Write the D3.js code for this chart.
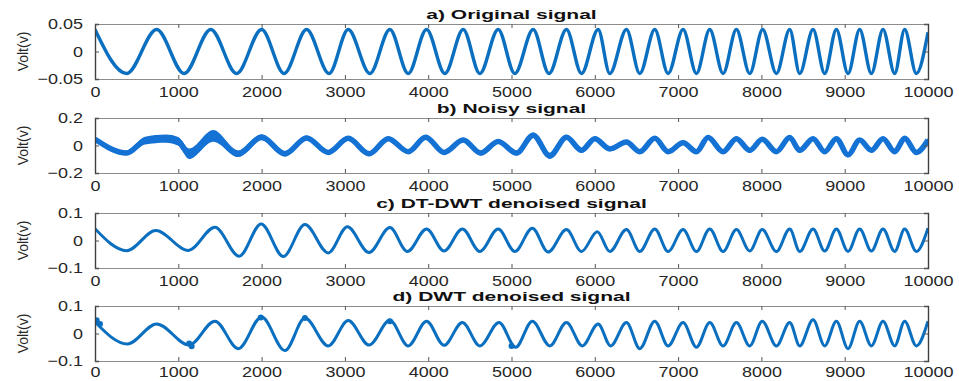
<!DOCTYPE html>
<html><head><meta charset="utf-8">
<script src="https://cdn.jsdelivr.net/npm/d3@7"></script>
<style>body{margin:0;background:#fff}svg{display:block}</style>
</head><body>
<svg id="chart" width="959" height="381"></svg>
<script>
// ---------- data ----------
const xTickValues = [0,1000,2000,3000,4000,5000,6000,7000,8000,9000,10000];
const panelTitles = ["a) Original signal","b) Noisy signal","c) DT-DWT denoised signal","d) DWT denoised signal"];
const yTicksA = [-0.05,0,0.05];
const yTicksB = [-0.2,0,0.2];
const yTicksC = [-0.1,0,0.1];
const yTicksD = [-0.1,0,0.1];
const yLabel = "Volt(v)";

// a) original chirp – extrema positions and values
const originalX = [0,380,740,1070,1390,1700,2000,2270,2540,2810,3040,3300,3540,3760,3980,4200,4420,4620,4840,5040,5260,5450,5660,5840,6040,6180,6380,6540,6720,6880,7060,7220,7380,7540,7700,7860,8015,8180,8340,8460,8620,8760,8900,9040,9180,9320,9460,9600,9720,9860,10000];
const originalV = [0.040,-0.040,0.040,-0.040,0.040,-0.040,0.040,-0.040,0.040,-0.040,0.040,-0.040,0.040,-0.040,0.040,-0.040,0.040,-0.040,0.040,-0.040,0.040,-0.040,0.040,-0.040,0.040,-0.040,0.040,-0.040,0.040,-0.040,0.040,-0.040,0.040,-0.040,0.040,-0.040,0.040,-0.040,0.040,-0.040,0.040,-0.040,0.040,-0.040,0.040,-0.040,0.040,-0.040,0.040,-0.040,0.035];

// b) noisy signal – band centre and half thickness
const noisyX = [0,380,600,850,1000,1130,1420,1720,2000,2280,2540,2800,3040,3290,3520,3760,3970,4190,4420,4630,4840,5060,5260,5460,5660,5840,6000,6180,6380,6540,6720,6880,7060,7220,7360,7540,7700,7860,8010,8180,8340,8460,8620,8760,8900,9040,9180,9320,9460,9600,9720,9860,10000];
const noisyV = [0.045,-0.055,0.035,0.050,0.030,-0.060,0.070,-0.060,0.060,-0.060,0.055,-0.050,0.052,-0.060,0.050,-0.045,0.060,-0.050,0.040,-0.055,0.030,-0.055,0.075,-0.075,0.060,-0.035,0.050,-0.025,0.025,-0.045,0.052,-0.045,0.020,-0.045,0.058,-0.045,0.050,-0.035,0.045,-0.045,0.058,-0.035,0.050,-0.045,0.050,-0.068,0.040,-0.035,0.050,-0.045,0.052,-0.050,0.040];
const noisyBand = [0.016,0.016,0.028,0.030,0.032,0.038,0.042,0.024,0.022,0.020,0.018,0.016,0.018,0.018,0.016,0.016,0.018,0.016,0.016,0.018,0.016,0.018,0.020,0.022,0.018,0.015,0.016,0.015,0.015,0.015,0.016,0.015,0.015,0.015,0.016,0.015,0.015,0.015,0.015,0.015,0.016,0.015,0.015,0.015,0.015,0.018,0.015,0.015,0.015,0.015,0.015,0.015,0.015];

// c) DT-DWT denoised
const dtdwtX = [0,380,730,1120,1440,1730,1995,2260,2520,2800,3030,3290,3540,3750,3980,4190,4410,4620,4840,5040,5250,5440,5660,5840,6030,6180,6380,6540,6720,6880,7060,7220,7380,7540,7700,7860,8010,8180,8340,8460,8620,8760,8900,9040,9180,9320,9460,9600,9720,9860,10000];
const dtdwtV = [0.043,-0.037,0.036,-0.036,0.048,-0.057,0.060,-0.058,0.058,-0.045,0.050,-0.044,0.047,-0.040,0.042,-0.038,0.042,-0.040,0.042,-0.040,0.045,-0.042,0.040,-0.040,0.032,-0.040,0.040,-0.040,0.042,-0.040,0.040,-0.040,0.042,-0.040,0.040,-0.038,0.040,-0.040,0.042,-0.040,0.042,-0.038,0.042,-0.040,0.042,-0.038,0.042,-0.040,0.042,-0.040,0.045];

// d) DWT denoised
const dwtX = [0,390,740,1130,1440,1720,2000,2280,2520,2800,3040,3290,3540,3760,3980,4190,4410,4620,4850,5050,5250,5460,5660,5850,6040,6190,6380,6540,6720,6880,7060,7220,7380,7540,7700,7860,8010,8180,8340,8460,8620,8760,8900,9040,9180,9320,9460,9600,9720,9860,10000];
const dwtV = [0.042,-0.038,0.035,-0.042,0.045,-0.055,0.060,-0.062,0.056,-0.045,0.047,-0.042,0.048,-0.045,0.045,-0.043,0.040,-0.045,0.040,-0.050,0.045,-0.045,0.040,-0.045,0.035,-0.045,0.040,-0.055,0.045,-0.045,0.040,-0.050,0.040,-0.045,0.040,-0.045,0.045,-0.045,0.040,-0.045,0.050,-0.045,0.045,-0.055,0.045,-0.045,0.045,-0.045,0.045,-0.045,0.045];
// thick step artefacts visible on the DWT curve
const dwtBlobX = [20,60,1130,1160,1990,2520,3540,5000];
const dwtBlobV = [0.048,0.035,-0.036,-0.046,0.058,0.056,0.045,-0.045];

// ---------- layout ----------
const svg = d3.select("#chart");
const left = 95, right = 928, panelH = 55;
const tops = [24, 118, 213, 306];
const lineColor = "#0b6fc0";
const textColor = "#262626";

const x = d3.scaleLinear().domain([0,10000]).range([left,right]);

function stretch(sel, k){
  sel.each(function(){
    const w = this.getComputedTextLength();
    this.setAttribute("textLength", (w*k).toFixed(1));
    this.setAttribute("lengthAdjust","spacingAndGlyphs");
  });
}

const panels = [
  {yTicks:yTicksA, dom:[-0.05,0.05], fmt:d=>d===0?"0":d3.format(".2f")(d), pad:7},
  {yTicks:yTicksB, dom:[-0.2,0.2],   fmt:d=>d===0?"0":d3.format(".1f")(d), pad:7},
  {yTicks:yTicksC, dom:[-0.1,0.1],   fmt:d=>d===0?"0":d3.format(".1f")(d), pad:7},
  {yTicks:yTicksD, dom:[-0.1,0.1],   fmt:d=>d===0?"0":d3.format(".1f")(d), pad:5}
];

panels.forEach((p,i)=>{
  const top = tops[i], bottom = top+panelH;
  const y = d3.scaleLinear().domain(p.dom).range([bottom,top]);
  p.y = y;
  const g = svg.append("g");
  p.g = g;
  const t = g.append("text").attr("x",(left+right)/2).attr("y",top-5)
    .attr("text-anchor","middle").attr("font-family","Liberation Sans, Arial, sans-serif")
    .attr("font-weight","bold").attr("font-size",12).attr("fill","#111").text(panelTitles[i]);
  stretch(t,1.75);
  g.append("text").attr("transform",`translate(28,${(top+bottom)/2}) rotate(-90)`)
    .attr("text-anchor","middle").attr("font-family","Liberation Sans, Arial, sans-serif")
    .attr("font-size",14).attr("fill",textColor).text(yLabel);

  const clipId = "clip"+i;
  svg.append("clipPath").attr("id",clipId).append("rect")
    .attr("x",left).attr("y",top-4).attr("width",right-left).attr("height",panelH+8);
  p.plot = g.append("g").attr("clip-path",`url(#${clipId})`);

  const xb = d3.axisBottom(x).tickValues(xTickValues).tickSize(-4).tickPadding(p.pad).tickFormat(d3.format("d"));
  const xt = d3.axisTop(x).tickValues(xTickValues).tickSize(-4).tickFormat("");
  const yl = d3.axisLeft(y).tickValues(p.yTicks).tickSize(-4).tickPadding(12).tickFormat(p.fmt);
  const yr = d3.axisRight(y).tickValues(p.yTicks).tickSize(-4).tickFormat("");
  p.axes = [
    g.append("g").attr("class","hz").attr("transform",`translate(0,${bottom})`).call(xb),
    g.append("g").attr("class","hz").attr("transform",`translate(0,${top})`).call(xt),
    g.append("g").attr("class","vt").attr("transform",`translate(${left},0)`).call(yl),
    g.append("g").attr("class","vt").attr("transform",`translate(${right},0)`).call(yr)
  ];
});

function pts(xs,vs){ return xs.map((d,i)=>[d,vs[i]]); }

// a
{
  const p = panels[0];
  const line = d3.line().x(d=>x(d[0])).y(d=>p.y(d[1])).curve(d3.curveMonotoneX);
  p.plot.append("path").attr("d",line(pts(originalX,originalV)))
    .attr("fill","none").attr("stroke",lineColor).attr("stroke-width",3.4).attr("stroke-linejoin","round");
}
// b
{
  const p = panels[1];
  const data = noisyX.map((d,i)=>({x:d,v:noisyV[i],h:noisyBand[i]}));
  const area = d3.area().x(d=>x(d.x)).y0(d=>p.y(d.v-d.h)).y1(d=>p.y(d.v+d.h)).curve(d3.curveMonotoneX);
  p.plot.append("path").attr("d",area(data)).attr("fill","#1472d4");
  const line = d3.line().x(d=>x(d.x)).y(d=>p.y(d.v)).curve(d3.curveMonotoneX);
  p.plot.append("path").attr("d",line(data)).attr("fill","none").attr("stroke","#1472d4").attr("stroke-width",5.5);
}
// c
{
  const p = panels[2];
  const line = d3.line().x(d=>x(d[0])).y(d=>p.y(d[1])).curve(d3.curveMonotoneX);
  p.plot.append("path").attr("d",line(pts(dtdwtX,dtdwtV)))
    .attr("fill","none").attr("stroke",lineColor).attr("stroke-width",3).attr("stroke-linejoin","round");
}
// d
{
  const p = panels[3];
  const line = d3.line().x(d=>x(d[0])).y(d=>p.y(d[1])).curve(d3.curveMonotoneX);
  p.plot.append("path").attr("d",line(pts(dwtX,dwtV)))
    .attr("fill","none").attr("stroke",lineColor).attr("stroke-width",3).attr("stroke-linejoin","round");
  p.plot.selectAll("circle.blob").data(pts(dwtBlobX,dwtBlobV)).join("circle")
    .attr("cx",d=>x(d[0])).attr("cy",d=>p.y(d[1])).attr("r",3).attr("fill",lineColor);
}

// ---------- axis styling ----------
panels.forEach(p=>{
  p.axes.forEach(a=>{
    const horiz = a.classed("hz");
    a.select(".domain").attr("stroke",horiz?"#8c8c8c":"#404040").attr("stroke-width",horiz?1:1.4);
    a.selectAll(".tick line").attr("stroke","#555").attr("stroke-width",1);
    const tx = a.selectAll(".tick text").attr("fill",textColor)
      .attr("font-family","Liberation Sans, Arial, sans-serif").attr("font-size",15);
    stretch(tx,1.2);
    a.raise();
  });
});
</script>
</body></html>
